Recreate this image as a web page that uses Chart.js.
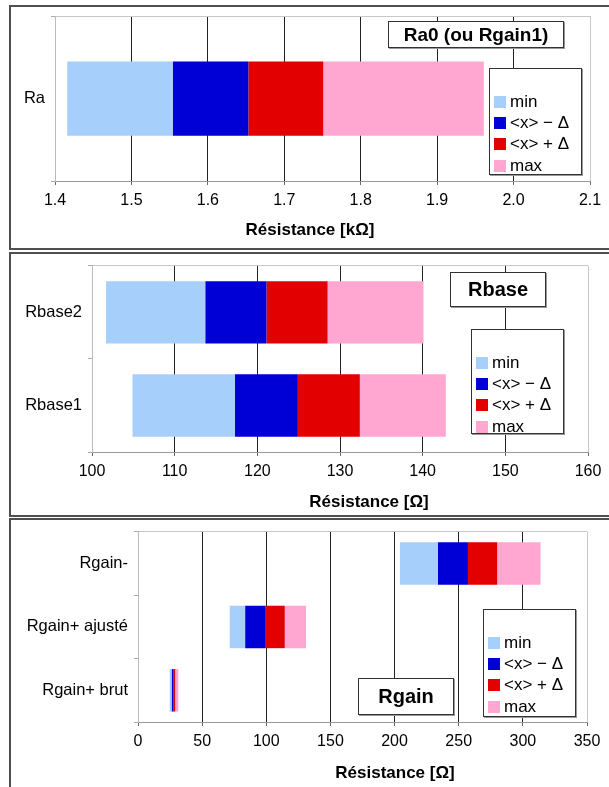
<!DOCTYPE html>
<html>
<head>
<meta charset="utf-8">
<script src="https://cdn.jsdelivr.net/npm/chart.js@4.4.0/dist/chart.umd.min.js"></script>
<style>
  body { margin: 0; width: 609px; height: 787px; overflow: hidden; background: #fff; position: relative;
         font-family: 'Liberation Sans', Arial, sans-serif; color: #000; }
  .panel { position: absolute; left: 9px; width: 640px; border: 2px solid #505050; box-sizing: border-box; }
  canvas { position: absolute; left: 0; }
  .title-box { position: absolute; border: 1px solid #333; box-shadow: 1px 1px 0 #999; background: #fff;
               font-weight: bold; display: flex; align-items: center; justify-content: center; box-sizing: border-box; }
  .legend-box { position: absolute; border: 1px solid #333; box-shadow: 1px 1px 0 #999; background: #fff;
                box-sizing: border-box; padding-top: 22px; }
  .legend-item { display: flex; align-items: center; height: 21.3px; padding-left: 4px; font-size: 17px; white-space: nowrap; }
  .swatch { width: 12px; height: 12px; margin-right: 4px; }
  .axis-title { position: absolute; font-weight: bold; font-size: 17px; transform: translate(-50%, -50%); white-space: nowrap; }
</style>
</head>
<body>
<div class="panel" style="top:5px;height:245px"></div>
<div class="panel" style="top:252px;height:265px"></div>
<div class="panel" style="top:518px;height:300px"></div>

<canvas id="chartRa" width="609" height="250" style="top:0"></canvas>
<canvas id="chartRbase" width="609" height="266" style="top:250px"></canvas>
<canvas id="chartRgain" width="609" height="271" style="top:516px"></canvas>

<div class="title-box" style="left:388px;top:21px;width:176px;height:27px;font-size:19px">Ra0 (ou Rgain1)</div>
<div class="title-box" style="left:450px;top:272px;width:96px;height:35px;font-size:20px">Rbase</div>
<div class="title-box" style="left:358px;top:678px;width:96px;height:37px;font-size:20px">Rgain</div>

<div class="legend-box" id="legendRa" style="left:489px;top:68px;width:93px;height:107px"></div>
<div class="legend-box" id="legendRbase" style="left:471px;top:329px;width:93px;height:105px"></div>
<div class="legend-box" id="legendRgain" style="left:483px;top:609px;width:93px;height:108px"></div>

<div class="axis-title" style="left:310px;top:230px">Résistance [kΩ]</div>
<div class="axis-title" style="left:369px;top:502px">Résistance [Ω]</div>
<div class="axis-title" style="left:395px;top:773px">Résistance [Ω]</div>

<script>
// series shared by the three charts
const seriesNames = ['min', '<x> \u2212 \u0394', '<x> + \u0394', 'max'];
const seriesColors = ['#a6d0fb', '#0000d6', '#e30000', '#ffa6d1'];

// Ra0 (kOhm)
const raLabels = ['Ra'];
const raMin  = [1.416];
const raLow  = [1.554];
const raMean = [1.653];
const raHigh = [1.751];
const raMax  = [1.961];
const raTicks = ['1.4', '1.5', '1.6', '1.7', '1.8', '1.9', '2.0', '2.1'];

// Rbase (Ohm)
const rbaseLabels = ['Rbase2', 'Rbase1'];
const rbaseMin  = [101.7, 104.9];
const rbaseLow  = [113.7, 117.3];
const rbaseMean = [121.1, 124.9];
const rbaseHigh = [128.5, 132.4];
const rbaseMax  = [140.1, 142.8];
const rbaseTicks = ['100', '110', '120', '130', '140', '150', '160'];

// Rgain (Ohm)
const rgainLabels = ['Rgain-', 'Rgain+ ajusté', 'Rgain+ brut'];
const rgainMin  = [204.2, 71.5, 24.7];
const rgainLow  = [233.8, 83.5, 26.2];
const rgainMean = [257.2, 99.0, 27.4];
const rgainHigh = [280.0, 114.4, 29.0];
const rgainMax  = [313.8, 131.0, 31.4];
const rgainTicks = ['0', '50', '100', '150', '200', '250', '300', '350'];

Chart.defaults.font.family = "'Liberation Sans', Arial, sans-serif";
Chart.defaults.color = '#000';

function makeDatasets(bounds, barPct) {
    // each colour band goes from one boundary to the next
    return seriesNames.map((name, k) => ({
        label: name,
        data: bounds[k].map((v, i) => [v, bounds[k + 1][i]]),
        backgroundColor: seriesColors[k],
        borderWidth: 0,
        grouped: false,
        categoryPercentage: 1,
        barPercentage: barPct
    }));
}

function buildLegend(chart, boxId) {
    const box = document.getElementById(boxId);
    box.innerHTML = '';
    chart.data.datasets.forEach(ds => {
        const row = document.createElement('div');
        row.className = 'legend-item';
        const sw = document.createElement('span');
        sw.className = 'swatch';
        sw.style.background = ds.backgroundColor;
        const txt = document.createElement('span');
        txt.textContent = ds.label;
        row.appendChild(sw);
        row.appendChild(txt);
        box.appendChild(row);
    });
}

function makeChart(id, labels, bounds, ticks, cfg) {
    const min = parseFloat(ticks[0]);
    const max = parseFloat(ticks[ticks.length - 1]);
    const step = Number(((max - min) / (ticks.length - 1)).toFixed(6));
    const last = ticks.length - 1;

    const ctx = document.getElementById(id).getContext('2d');
    return new Chart(ctx, {
        type: 'bar',
        data: { labels: labels, datasets: makeDatasets(bounds, cfg.barPct) },
        options: {
            indexAxis: 'y',
            responsive: false,
            animation: false,
            layout: { padding: { top: cfg.top, right: cfg.right, left: 0, bottom: 0 } },
            plugins: { legend: { display: false }, tooltip: { enabled: false } },
            scales: {
                x: {
                    type: 'linear',
                    min: min,
                    max: max,
                    ticks: { stepSize: step, font: { size: 16 }, padding: 6,
                             callback: (v, i) => ticks[i] },
                    grid: {
                        color: c => (c.index === 0 || c.index === last) ? '#c8c8c8' : '#222',
                        tickColor: '#666',
                        tickLength: 4
                    },
                    border: { color: '#9a9a9a' },
                    afterFit: s => { s.height = cfg.xh; }
                },
                y: {
                    ticks: { font: { size: 16.5 }, padding: 6 },
                    grid: {
                        color: c => c.index === 0 ? '#c8c8c8' : 'rgba(0,0,0,0)',
                        tickColor: '#aaa',
                        tickLength: 4
                    },
                    border: { color: '#bbb' },
                    afterFit: s => { s.width = cfg.yw; }
                }
            }
        }
    });
}

const raChart = makeChart('chartRa', raLabels,
    [raMin, raLow, raMean, raHigh, raMax], raTicks,
    { top: 16, right: 19, xh: 69, yw: 55, barPct: 0.45 });
buildLegend(raChart, 'legendRa');

const rbaseChart = makeChart('chartRbase', rbaseLabels,
    [rbaseMin, rbaseLow, rbaseMean, rbaseHigh, rbaseMax], rbaseTicks,
    { top: 12, right: 21, xh: 64, yw: 92, barPct: 0.67 });
buildLegend(rbaseChart, 'legendRbase');

const rgainChart = makeChart('chartRgain', rgainLabels,
    [rgainMin, rgainLow, rgainMean, rgainHigh, rgainMax], rgainTicks,
    { top: 12, right: 22, xh: 65, yw: 138, barPct: 0.67 });
buildLegend(rgainChart, 'legendRgain');
</script>
</body>
</html>
